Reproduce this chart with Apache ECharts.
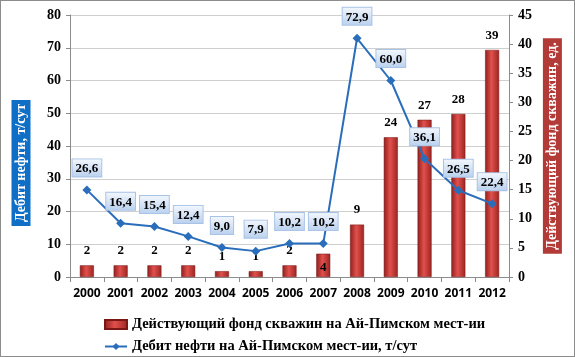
<!DOCTYPE html>
<html>
<head>
<meta charset="utf-8">
<script src="https://cdn.jsdelivr.net/npm/echarts@6/dist/echarts.min.js"></script>
<style>
  html, body { margin: 0; padding: 0; background: #fff; }
  #chart { width: 573px; height: 355px; border: 1px solid #8c8c8c; }
</style>
</head>
<body>
<div id="chart"></div>
<script>
// годы
const years = ['2000', '2001', '2002', '2003', '2004', '2005', '2006', '2007', '2008', '2009', '2010', '2011', '2012']
// действующий фонд скважин, ед.
const wells = [2, 2, 2, 2, 1, 1, 2, 4, 9, 24, 27, 28, 39]
// дебит нефти, т/сут
const rate = [26.6, 16.4, 15.4, 12.4, 9.0, 7.9, 10.2, 10.2, 72.9, 60.0, 36.1, 26.5, 22.4]

const serif = '"Liberation Serif", "Times New Roman", serif'
const barName = 'Действующий фонд скважин на Ай-Пимском мест-ии'
const lineName = 'Дебит нефти на Ай-Пимском мест-ии, т/сут'

const barColor = new echarts.graphic.LinearGradient(0, 0, 1, 0, [
  { offset: 0, color: '#8e1f1d' },
  { offset: 0.45, color: '#e2504c' },
  { offset: 1, color: '#9a2522' }
])

const legendText = { fontFamily: serif, fontWeight: 'bold', fontSize: 14.5, color: '#000' }

const chart = echarts.init(document.getElementById('chart'))
chart.setOption({
  animation: false,
  grid: { left: 69, right: 65, top: 14, bottom: 79 },
  graphic: [{
    type: 'text',
    x: 20,
    y: 162,
    rotation: Math.PI / 2,
    style: {
      text: 'Дебит нефти, т/сут',
      fill: '#fff',
      font: 'bold 14px ' + serif,
      align: 'center',
      verticalAlign: 'middle',
      backgroundColor: '#0f6fc6',
      padding: [3, 4, 2, 4]
    }
  }],
  legend: [
    {
      left: 98, top: 311, itemWidth: 22, itemHeight: 9, itemGap: 2,
      textStyle: legendText,
      data: [{ name: barName, icon: 'rect' }]
    },
    {
      left: 98, top: 333, itemWidth: 22, itemHeight: 9, itemGap: 2,
      textStyle: legendText,
      data: [{ name: lineName }]
    }
  ],
  xAxis: {
    type: 'category',
    data: years,
    boundaryGap: true,
    axisLine: { lineStyle: { color: '#8c8c8c' } },
    axisTick: { show: true, length: 5, lineStyle: { color: '#8c8c8c' } },
    axisLabel: { interval: 0, color: '#000', fontWeight: 'bold', fontSize: 12, fontFamily: '"Open Sans", sans-serif', margin: 11 }
  },
  yAxis: [
    {
      type: 'value',
      min: 0, max: 80, interval: 10,
      axisLine: { show: true, lineStyle: { color: '#8c8c8c' } },
      axisTick: { show: true, length: 4, lineStyle: { color: '#8c8c8c' } },
      axisLabel: { color: '#000', fontWeight: 'bold', fontSize: 14, fontFamily: serif, margin: 9 },
      splitLine: { lineStyle: { color: '#cfcfcf' } }
    },
    {
      type: 'value',
      min: 0, max: 45, interval: 5,
      name: 'Действующий фонд скважин, ед.',
      nameLocation: 'middle',
      nameGap: 38,
      nameRotate: 90,
      nameTextStyle: {
        color: '#fff', fontFamily: serif, fontWeight: 'bold', fontSize: 14,
        backgroundColor: '#b23b38', padding: [3, 4, 2, 4], verticalAlign: 'middle'
      },
      axisLine: { show: true, lineStyle: { color: '#8c8c8c' } },
      axisTick: { show: true, length: 4, lineStyle: { color: '#8c8c8c' } },
      axisLabel: { color: '#000', fontWeight: 'bold', fontSize: 14, fontFamily: serif, margin: 9 },
      splitLine: { show: false }
    }
  ],
  series: [
    {
      name: barName,
      type: 'bar',
      yAxisIndex: 1,
      barWidth: 14,
      itemStyle: { color: barColor, borderColor: '#7a1614', borderWidth: 0.5 },
      label: {
        show: true, position: 'top', distance: 8,
        color: '#000', fontFamily: serif, fontWeight: 'bold', fontSize: 13
      },
      data: wells.map((v, i) => i === 7
        ? { value: v, label: { position: 'insideTop', distance: 7 } }
        : v)
    },
    {
      name: lineName,
      type: 'line',
      yAxisIndex: 0,
      symbol: 'diamond',
      symbolSize: 9,
      lineStyle: { color: '#2a6ebb', width: 2 },
      itemStyle: { color: '#2a6ebb' },
      label: {
        show: true, position: 'top', distance: 9,
        formatter: p => p.value.toFixed(1).replace('.', ','),
        color: '#000', fontFamily: serif, fontWeight: 'bold', fontSize: 13,
        padding: [3, 3, 1, 3],
        borderColor: '#a9c3e6', borderWidth: 1,
        backgroundColor: new echarts.graphic.LinearGradient(0, 0, 0, 1, [
          { offset: 0, color: '#f4f8fd' },
          { offset: 1, color: '#b9d0ee' }
        ])
      },
      data: rate
    }
  ]
})
</script>
</body>
</html>
